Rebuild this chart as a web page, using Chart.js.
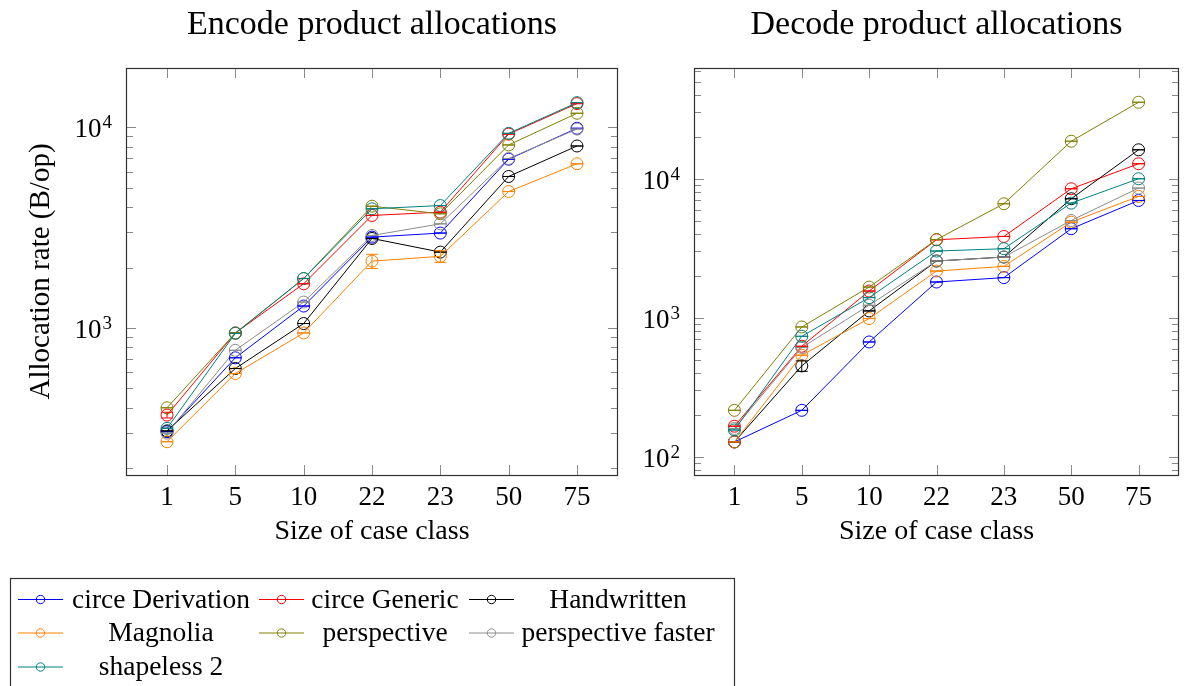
<!DOCTYPE html>
<html>
<head>
<meta charset="utf-8">
<script src="https://cdn.jsdelivr.net/npm/chart.js@4.4.1/dist/chart.umd.min.js"></script>
<style>
  body { margin: 0; background: #fff; width: 1186px; height: 686px; overflow: hidden; position: relative; }
  #encodeWrap { position: absolute; left: 0; top: 0; width: 630px; height: 560px; }
  #decodeWrap { position: absolute; left: 630px; top: 0; width: 556px; height: 560px; }
  #legend { position: absolute; left: 0; top: 570px; width: 740px; height: 116px; }
</style>
</head>
<body>
<div id="encodeWrap"><canvas id="encode"></canvas></div>
<div id="decodeWrap"><canvas id="decode"></canvas></div>
<canvas id="legend" width="740" height="116"></canvas>
<script>
// case class sizes on the x axis
const sizes = ['1', '5', '10', '22', '23', '50', '75'];

const seriesNames = ['circe Derivation', 'circe Generic', 'Handwritten', 'Magnolia',
                     'perspective', 'perspective faster', 'shapeless 2'];
const seriesColors = ['#0000ff', '#ff0000', '#000000', '#ff8000', '#808000', '#8c8c8c', '#008080'];

// encode allocation rate, B/op
const encodeCirceDerivation   = [304, 710, 1286, 2836, 2971, 6936, 9890];
const encodeCirceGeneric      = [368, 944, 1660, 3638, 3776, 9250, 13120];
const encodeHandwritten       = [307, 628, 1052, 2793, 2388, 5688, 8070];
const encodeMagnolia          = [271, 593, 944, 2153, 2275, 4786, 6580];
const encodePerspective       = [400, 944, 1763, 4045, 3706, 8166, 11750];
const encodePerspectiveFaster = [299, 774, 1346, 2890, 3303, 6990, 9800];
const encodeShapeless         = [316, 940, 1763, 3926, 4074, 9333, 13270];

// decode allocation rate, B/op
const decodeCirceDerivation   = [128, 216, 670, 1808, 1945, 4370, 6980];
const decodeCirceGeneric      = [166, 624, 1558, 3640, 3845, 8470, 12820];
const decodeHandwritten       = [128, 451, 1120, 2560, 2735, 7180, 16150];
const decodeMagnolia          = [128, 538, 987, 2168, 2344, 4875, 7460];
const decodePerspective       = [216, 859, 1663, 3650, 6610, 18620, 35500];
const decodePerspectiveFaster = [160, 611, 1230, 2560, 2735, 5010, 8570];
const decodeShapeless         = [156, 736, 1397, 3020, 3140, 6680, 10000];

// error (+/-) where the run had visible spread
const encodeCirceGenericErr = [12, 0, 0, 0, 0, 0, 0];
const encodeMagnoliaErr     = [0, 0, 0, 175, 150, 0, 0];
const decodeHandwrittenErr  = [0, 39, 0, 0, 0, 0, 0];

const FONT = '"Liberation Serif", "Times New Roman", serif';

function makeDatasets(series, errors) {
  return series.map((vals, i) => ({
    label: seriesNames[i],
    data: vals.map((v, j) => ({ x: j, y: v })),
    errors: errors[i] || [],
    borderColor: seriesColors[i],
    backgroundColor: 'rgba(0,0,0,0)',
    borderWidth: 1,
    pointStyle: 'circle',
    pointRadius: 6,
    pointBorderWidth: 1,
    pointBackgroundColor: 'rgba(0,0,0,0)',
    pointBorderColor: seriesColors[i],
    tension: 0,
    order: series.length - i,   // later series drawn on top
    clip: false
  }));
}

// vertical error bar with caps, a zero error leaves just the cap line through the marker
const errorBars = {
  id: 'errorBars',
  afterDatasetsDraw(chart) {
    const ctx = chart.ctx;
    const y = chart.scales.y;
    ctx.save();
    ctx.lineWidth = 1;
    chart.data.datasets.forEach((ds, di) => {
      const meta = chart.getDatasetMeta(di);
      ctx.strokeStyle = ds.borderColor;
      meta.data.forEach((pt, j) => {
        const v = ds.data[j].y;
        const e = ds.errors[j] || 0;
        const top = y.getPixelForValue(v + e);
        const bot = y.getPixelForValue(v - e);
        ctx.beginPath();
        ctx.moveTo(pt.x - 6, top); ctx.lineTo(pt.x + 6, top);
        ctx.moveTo(pt.x - 6, bot); ctx.lineTo(pt.x + 6, bot);
        ctx.moveTo(pt.x, top); ctx.lineTo(pt.x, bot);
        ctx.stroke();
      });
    });
    ctx.restore();
  }
};

// box, inward ticks on all four sides, tick labels and titles
const frame = {
  id: 'frame',
  afterDraw(chart, args, opts) {
    const { ctx, chartArea: a, scales: { x, y } } = chart;
    ctx.save();
    ctx.strokeStyle = '#8a8a8a';
    ctx.lineWidth = 1;
    ctx.beginPath();
    sizes.forEach((s, i) => {
      const px = Math.round(x.getPixelForValue(i)) + 0.5;
      ctx.moveTo(px, a.bottom); ctx.lineTo(px, a.bottom - 10);
      ctx.moveTo(px, a.top); ctx.lineTo(px, a.top + 10);
    });
    const lo = Math.floor(Math.log10(y.min));
    const hi = Math.ceil(Math.log10(y.max));
    for (let e = lo; e <= hi; e++) {
      for (let m = 1; m <= 9; m++) {
        const v = m * Math.pow(10, e);
        if (v < y.min || v > y.max) continue;
        const py = Math.round(y.getPixelForValue(v)) + 0.5;
        const len = m === 1 ? 10 : 7;
        ctx.moveTo(a.left, py); ctx.lineTo(a.left + len, py);
        ctx.moveTo(a.right, py); ctx.lineTo(a.right - len, py);
      }
    }
    ctx.stroke();

    ctx.strokeStyle = '#333';
    ctx.lineWidth = 1.2;
    ctx.strokeRect(a.left + 0.5, a.top + 0.5, a.right - a.left - 1, a.bottom - a.top);

    ctx.fillStyle = '#000';
    ctx.textBaseline = 'alphabetic';

    // x tick labels
    ctx.font = '27px ' + FONT;
    ctx.textAlign = 'center';
    sizes.forEach((s, i) => ctx.fillText(s, x.getPixelForValue(i), 505));

    // y tick labels as 10 with a raised exponent
    for (let e = lo; e <= hi; e++) {
      const v = Math.pow(10, e);
      if (v < y.min || v > y.max) continue;
      const py = y.getPixelForValue(v);
      const right = a.left - 14;
      ctx.textAlign = 'right';
      ctx.font = '19px ' + FONT;
      const ew = ctx.measureText(String(e)).width;
      ctx.fillText(String(e), right, py + 1);
      ctx.font = '27px ' + FONT;
      ctx.fillText('10', right - ew - 1, py + 10);
    }

    const cx = (a.left + a.right) / 2;
    ctx.textAlign = 'center';
    ctx.font = '34px ' + FONT;
    ctx.fillText(opts.title, cx, 34);
    ctx.font = '28px ' + FONT;
    ctx.fillText('Size of case class', cx, 539);

    if (opts.yTitle) {
      ctx.translate(opts.yTitleX, (a.top + a.bottom) / 2);
      ctx.rotate(-Math.PI / 2);
      ctx.textBaseline = 'middle';
      ctx.font = '29px ' + FONT;
      ctx.fillText(opts.yTitle, 0, 0);
    }
    ctx.restore();
  }
};

function makeChart(id, series, errors, yMin, yMax, pad, title, yTitle) {
  return new Chart(document.getElementById(id), {
    type: 'line',
    data: { datasets: makeDatasets(series, errors) },
    options: {
      responsive: true,
      maintainAspectRatio: false,
      animation: false,
      layout: { padding: pad },
      scales: {
        x: { type: 'linear', display: false, min: -0.6, max: 6.6 },
        y: { type: 'logarithmic', display: false, min: yMin, max: yMax }
      },
      plugins: {
        legend: { display: false },
        tooltip: { enabled: false },
        frame: { title: title, yTitle: yTitle, yTitleX: 41 }
      }
    },
    plugins: [errorBars, frame]
  });
}

makeChart('encode',
  [encodeCirceDerivation, encodeCirceGeneric, encodeHandwritten, encodeMagnolia,
   encodePerspective, encodePerspectiveFaster, encodeShapeless],
  [null, encodeCirceGenericErr, null, encodeMagnoliaErr, null, null, null],
  185, 19750, { left: 126, right: 12, top: 68, bottom: 85 },
  'Encode product allocations', 'Allocation rate (B/op)');

makeChart('decode',
  [decodeCirceDerivation, decodeCirceGeneric, decodeHandwritten, decodeMagnolia,
   decodePerspective, decodePerspectiveFaster, decodeShapeless],
  [null, null, decodeHandwrittenErr, null, null, null, null],
  74, 62600, { left: 64, right: 1, top: 68, bottom: 85 },
  'Decode product allocations', null);

// shared legend below both charts, three entries per row, text centred in its column
(function drawLegend() {
  const ctx = document.getElementById('legend').getContext('2d');
  const sampleLeft = [18, 259, 469];
  const textCentre = [161, 385, 618];
  const rowY = [29.5, 63, 97];
  ctx.strokeStyle = '#333';
  ctx.lineWidth = 1.2;
  ctx.strokeRect(10.5, 8.5, 724, 120);
  ctx.font = '27.5px ' + FONT;
  ctx.textAlign = 'center';
  ctx.textBaseline = 'middle';
  seriesNames.forEach((name, i) => {
    const col = i % 3, row = Math.floor(i / 3);
    const sx = sampleLeft[col], sy = rowY[row];
    ctx.strokeStyle = seriesColors[i];
    ctx.lineWidth = 1;
    ctx.beginPath();
    ctx.moveTo(sx, sy); ctx.lineTo(sx + 45, sy);
    ctx.stroke();
    ctx.beginPath();
    ctx.arc(sx + 22.5, sy, 4.2, 0, Math.PI * 2);
    ctx.stroke();
    ctx.fillStyle = '#000';
    ctx.fillText(name, textCentre[col], sy + 1);
  });
})();
</script>
</body>
</html>
